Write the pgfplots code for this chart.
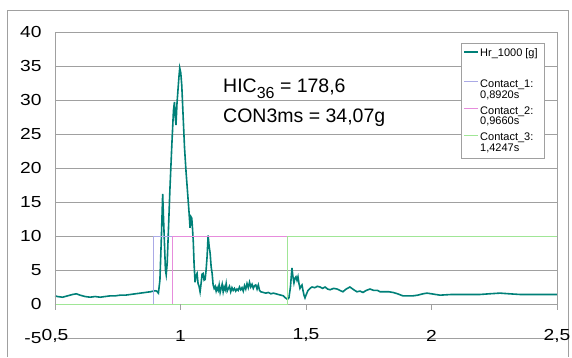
\documentclass[border=0pt]{standalone}
\usepackage{fontspec}
\setmainfont{Liberation Sans}
\newfontfamily\tickfont{Liberation Sans}[FakeStretch=1.2]
\usepackage{pgfplots}
\pgfplotsset{compat=1.18}
\definecolor{hrcol}{RGB}{0,128,120}
\definecolor{cone}{RGB}{170,170,230}
\definecolor{ctwo}{RGB}{230,140,220}
\definecolor{cthree}{RGB}{160,230,150}
\definecolor{gridc}{RGB}{160,160,160}
\begin{document}
\begin{tikzpicture}[x=1pt,y=1pt]
\useasboundingbox (0,0) rectangle (572,357);
\draw[gridc, line width=0.8pt] (7,0) -- (7,347) -- (568,347) -- (568,0);
\begin{axis}[
 scale only axis, width=502pt, height=306pt, at={(55pt,19pt)}, anchor=south west,
 xmin=0.5, xmax=2.5, ymin=-5, ymax=40,
 xtick={0.5,1,1.5,2,2.5}, xticklabels={{0,5},1,{1,5},2,{2,5}},
 ytick={-5,0,5,10,15,20,25,30,35,40},
 ymajorgrids, grid style={gridc, line width=0.8pt},
 axis line style={draw=none},
 major tick length=0pt,
 tick label style={font=\tickfont\fontsize{16}{16}\selectfont},
 /pgf/number format/assume math mode=true,
 xticklabel style={anchor=center, yshift=2.5pt},
 yticklabel style={xshift=-10pt},
 clip=false,
]
\addplot[hrcol, line width=1.6pt] coordinates {
(0.500,1.2) (0.510,1.1) (0.530,1.0) (0.550,1.2) (0.570,1.4) (0.585,1.5) (0.600,1.3) (0.620,1.1)
(0.640,1.0) (0.660,1.1) (0.680,1.0) (0.700,1.1) (0.720,1.2) (0.740,1.2) (0.760,1.3) (0.780,1.3)
(0.800,1.4) (0.820,1.5) (0.840,1.6) (0.860,1.7) (0.880,1.8) (0.898,1.95) (0.905,1.9) (0.912,1.6)
(0.918,3.5) (0.924,10.0) (0.929,16.2) (0.932,13.0) (0.936,9.0) (0.940,5.0) (0.943,4.3) (0.947,6.0)
(0.952,11.0) (0.958,17.0) (0.965,23.0) (0.972,28.5) (0.976,29.7) (0.979,27.5) (0.982,26.3) (0.986,29.5)
(0.990,31.5) (0.994,33.5) (0.997,34.7) (1.001,34.0) (1.005,32.2) (1.010,28.0) (1.016,23.0) (1.022,19.5)
(1.028,16.5) (1.034,13.5) (1.038,11.2) (1.042,12.8) (1.045,12.6) (1.048,11.0) (1.051,9.1) (1.054,6.0)
(1.058,3.2) (1.062,4.2) (1.066,4.5) (1.070,3.0) (1.074,2.6) (1.078,1.8) (1.082,3.0) (1.086,4.4)
(1.090,4.5) (1.094,3.5) (1.098,3.6) (1.102,5.0) (1.106,7.0) (1.110,10.1) (1.114,8.5) (1.118,7.5)
(1.122,5.5) (1.126,4.5) (1.130,2.8) (1.134,2.3) (1.138,2.6) (1.142,1.9) (1.146,2.4) (1.150,2.0)
(1.154,2.8) (1.158,1.7) (1.162,2.3) (1.166,2.9) (1.170,1.8) (1.174,2.5) (1.178,2.1) (1.182,3.0)
(1.186,1.9) (1.190,2.2) (1.195,2.6) (1.200,1.8) (1.205,2.4) (1.210,2.0) (1.215,2.3) (1.220,1.9)
(1.225,2.2) (1.230,2.0) (1.235,2.5) (1.240,2.1) (1.245,2.4) (1.250,1.9) (1.255,2.7) (1.260,2.2)
(1.265,3.0) (1.270,2.4) (1.275,3.2) (1.280,2.5) (1.285,2.9) (1.290,2.3) (1.295,2.7) (1.300,2.8)
(1.305,2.2) (1.310,2.8) (1.315,2.0) (1.320,1.8) (1.330,1.7) (1.340,1.6) (1.350,1.7) (1.360,1.5)
(1.370,1.6) (1.380,1.5) (1.390,1.4) (1.400,1.3) (1.410,1.2) (1.418,0.9) (1.426,0.7) (1.432,0.9)
(1.438,2.5) (1.444,5.3) (1.448,4.0) (1.452,3.1) (1.456,3.8) (1.460,4.0) (1.464,3.5) (1.468,4.0)
(1.472,3.0) (1.476,2.3) (1.480,2.6) (1.484,2.8) (1.488,2.0) (1.492,1.3) (1.496,0.9) (1.500,1.3)
(1.508,2.0) (1.516,2.3) (1.524,2.5) (1.535,2.4) (1.545,2.6) (1.556,2.5) (1.566,2.3) (1.576,2.5)
(1.586,2.2) (1.596,2.1) (1.610,2.3) (1.624,2.2) (1.635,2.0) (1.647,1.8) (1.660,2.2) (1.675,2.5)
(1.690,2.1) (1.703,1.8) (1.715,1.9) (1.727,1.7) (1.740,2.0) (1.755,2.2) (1.770,2.0) (1.785,2.0)
(1.795,1.8) (1.810,1.8) (1.830,1.8) (1.847,1.7) (1.865,1.5) (1.886,1.2) (1.905,1.2) (1.926,1.2)
(1.945,1.3) (1.966,1.5) (1.982,1.6) (2.000,1.5) (2.034,1.3) (2.080,1.4) (2.120,1.4) (2.160,1.4)
(2.193,1.4) (2.230,1.5) (2.273,1.6) (2.310,1.5) (2.353,1.4) (2.400,1.4) (2.450,1.4) (2.500,1.4)
};
\addplot[cone, line width=0.8pt] coordinates {(0.5,0) (0.892,0) (0.892,10) (2.5,10)};
\addplot[ctwo, line width=0.8pt] coordinates {(0.5,0) (0.966,0) (0.966,10) (2.5,10)};
\addplot[cthree, line width=0.8pt] coordinates {(0.5,0) (1.4247,0) (1.4247,10) (2.5,10)};
\draw[gridc, line width=0.8pt] (axis cs:0.5,40) -- ([yshift=-6pt]axis cs:0.5,0);
\draw[gridc, line width=0.8pt] (axis cs:2.5,40) -- ([yshift=-6pt]axis cs:2.5,0);
\pgfplotsinvokeforeach{1,1.5,2}{\draw[gridc, line width=0.8pt] (axis cs:#1,0) -- ([yshift=-6pt]axis cs:#1,0);}
\end{axis}
\node[anchor=base west, inner sep=0pt, font=\fontsize{19.5}{20}\selectfont] at (223,265) {HIC\raisebox{-6pt}{\fontsize{16}{16}\selectfont 36} = 178,6};
\node[anchor=base west, inner sep=0pt, font=\fontsize{19.5}{20}\selectfont] at (223,235) {CON3ms = 34,07g};
% legend
\draw[gridc, fill=white, line width=0.8pt] (461,314) rectangle (544,199);
\draw[hrcol, line width=1.6pt] (464,305) -- (478,305);
\draw[cone, line width=0.8pt] (464,276) -- (478,276);
\draw[ctwo, line width=0.8pt] (464,249) -- (478,249);
\draw[cthree, line width=0.8pt] (464,222) -- (478,222);
\begin{scope}[every node/.style={anchor=base west, inner sep=0pt, font=\fontsize{11}{12}\selectfont}]
\node at (480,300.4) {Hr\_1000 [g]};
\node at (480,270) {Contact\_1:};
\node at (480,259) {0,8920s};
\node at (480,243) {Contact\_2:};
\node at (480,232.4) {0,9660s};
\node at (480,216.4) {Contact\_3:};
\node at (480,206) {1,4247s};
\end{scope}
\end{tikzpicture}
\end{document}
